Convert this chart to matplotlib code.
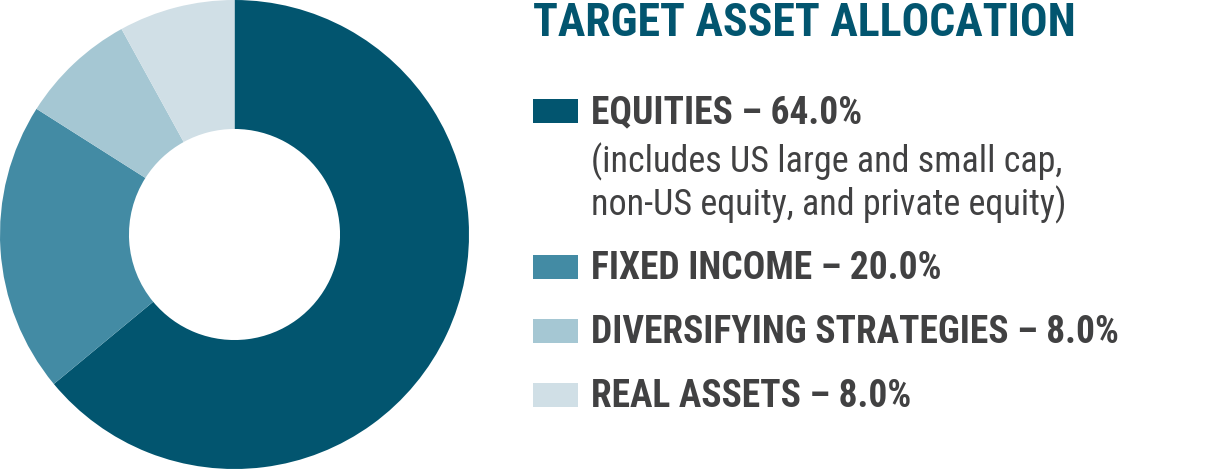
import matplotlib
matplotlib.use("Agg")
import matplotlib.pyplot as plt
from matplotlib import font_manager as fm

categories = ["EQUITIES", "FIXED INCOME", "DIVERSIFYING STRATEGIES", "REAL ASSETS"]
values = [64.0, 20.0, 8.0, 8.0]
colors = ["#02556f", "#438ba4", "#a5c7d3", "#d0dfe6"]
title = "TARGET ASSET ALLOCATION"
equity_note = ["(includes US large and small cap,", "non-US equity, and private equity)"]

names = {f.name for f in fm.fontManager.ttflist}
cond = "DejaVu Sans"
for cand in ["Roboto Condensed", "Archivo Narrow", "Liberation Sans Narrow"]:
    if cand in names:
        cond = cand
        break

W, H = 1215, 469
fig = plt.figure(figsize=(W / 100, H / 100), dpi=100)

ax = fig.add_axes([0, 0, 469 / W, 1])
ax.pie(values, colors=colors, startangle=90, counterclock=False, radius=1.0,
       wedgeprops=dict(width=0.55, linewidth=0))
ax.set_xlim(-1.0, 1.0)
ax.set_ylim(-1.0, 1.0)
ax.set_aspect("equal")
ax.axis("off")

tx = fig.add_axes([0, 0, 1, 1])
tx.set_xlim(0, W)
tx.set_ylim(H, 0)
tx.axis("off")

dark = "#414142"
tx.text(533, 36, title, fontsize=33, fontweight="bold", color="#02556f",
        family=cond, va="baseline", ha="left")

baselines = [123, 279, 343, 407]
for cat, v, c, y in zip(categories, values, colors, baselines):
    tx.add_patch(plt.Rectangle((533, y - 24), 45, 24, facecolor=c, edgecolor="none"))
    tx.text(591, y, f"{cat} \u2013 {v:.1f}%", fontsize=27, fontweight="bold", color=dark,
            family=cond, va="baseline", ha="left")
for i, line in enumerate(equity_note):
    tx.text(591, 172 + 43 * i, line, fontsize=26, color=dark, family=cond,
            va="baseline", ha="left")

fig.savefig("out.png", dpi=100)
